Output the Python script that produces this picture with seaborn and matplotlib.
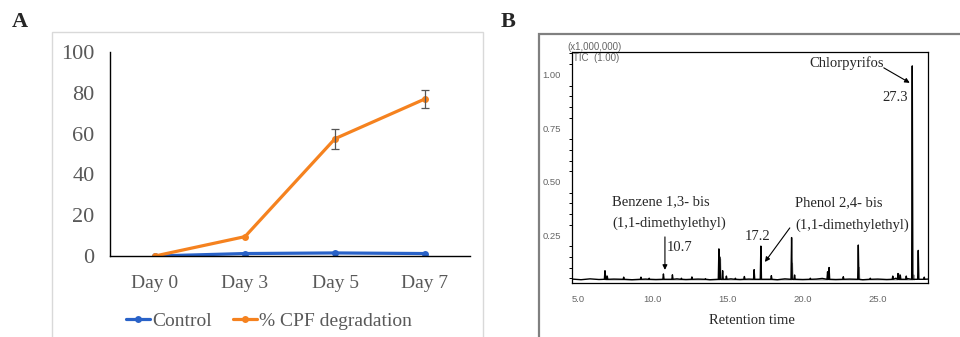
import pandas as pd
import seaborn as sns
import matplotlib
matplotlib.use("Agg")
import matplotlib.pyplot as plt
from matplotlib.patches import Rectangle
from matplotlib.lines import Line2D
from matplotlib.ticker import MultipleLocator, FormatStrFormatter

sns.set_style("white")
plt.rcParams['font.family'] = ['Liberation Serif', 'DejaVu Serif']

# panel A data
days = ["Day 0", "Day 3", "Day 5", "Day 7"]
control = [0.0, 1.2, 1.5, 1.2]
cpf_degradation = [0.0, 9.5, 57.5, 77.0]
cpf_err = [0.0, 0.0, 5.0, 4.5]

# panel B data: chromatogram peaks (retention time, intensity x1e6)
peak_times = [6.8, 6.95, 8.05, 9.2, 9.75, 10.7, 11.3, 11.9, 12.6, 13.5,
              14.4, 14.45, 14.65, 14.9, 15.5, 16.1, 16.75, 17.2, 17.9,
              19.25, 19.45, 20.5, 21.65, 21.75, 22.7, 23.7, 24.5,
              26.0, 26.35, 26.5, 26.9, 27.3, 27.7, 28.1]
peak_heights = [0.085, 0.06, 0.055, 0.055, 0.05, 0.07, 0.066, 0.05, 0.056, 0.048,
                0.187, 0.15, 0.085, 0.06, 0.05, 0.058, 0.09, 0.2, 0.062,
                0.24, 0.065, 0.05, 0.08, 0.1, 0.057, 0.205, 0.05,
                0.06, 0.072, 0.065, 0.06, 1.042, 0.18, 0.055]
gray_times = [6.85, 14.5, 19.3, 21.7, 23.75, 26.4, 27.4]
gray_heights = [0.065, 0.14, 0.12, 0.065, 0.1, 0.07, 0.065]
baseline_times = [4.6, 5.2, 5.8, 6.4, 7.4, 8.6, 9.5, 10.2, 11.6, 12.2, 13.0, 13.8,
                  15.2, 15.8, 16.4, 18.3, 18.8, 20.0, 20.9, 21.3, 22.2, 23.1,
                  24.0, 25.0, 25.6, 26.2, 27.0, 28.35]
baseline_vals = [0.046, 0.043, 0.047, 0.044, 0.046, 0.043, 0.046, 0.044, 0.047, 0.044,
                 0.046, 0.043, 0.047, 0.044, 0.046, 0.043, 0.047, 0.044, 0.046, 0.049,
                 0.044, 0.046, 0.043, 0.046, 0.044, 0.05, 0.048, 0.046]

BLUE = "#2962c8"
ORANGE = "#f5821f"


def build_trace(times, heights, base=0.045, half_width=0.04, with_baseline=True):
    rows = []
    if with_baseline:
        rows += list(zip(baseline_times, baseline_vals))
    for t, h in zip(times, heights):
        rows += [(t - half_width, base), (t, h), (t + half_width, base)]
    df = pd.DataFrame(rows, columns=["time", "intensity"])
    return df.sort_values("time")


fig = plt.figure(figsize=(9.6, 3.37), dpi=100)

# frames around panels
fig.patches.append(Rectangle((52 / 960, -0.1), 431 / 960, 1.1 - 32 / 337,
                             transform=fig.transFigure, fill=False,
                             edgecolor="#d9d9d9", lw=1.0))
fig.patches.append(Rectangle((539 / 960, -0.1), 0.6, 1.1 - 34 / 337,
                             transform=fig.transFigure, fill=False,
                             edgecolor="#808080", lw=1.6))

# ---- panel A ----
axA = fig.add_axes([110 / 960, 1 - 256 / 337, 360 / 960, 204 / 337])
dfA = pd.DataFrame({
    "day": days * 2,
    "value": control + cpf_degradation,
    "series": ["Control"] * 4 + ["% CPF degradation"] * 4,
})
sns.lineplot(data=dfA, x="day", y="value", hue="series",
             palette={"Control": BLUE, "% CPF degradation": ORANGE},
             marker="o", markersize=5, markeredgewidth=0, lw=2.3,
             legend=False, ax=axA)
axA.errorbar(range(len(days))[2:], cpf_degradation[2:], yerr=cpf_err[2:],
             fmt="none", ecolor="#555555", elinewidth=0.9, capsize=3, capthick=0.9)
axA.set_xlim(-0.5, 3.5)
axA.set_ylim(0, 100)
axA.set_yticks([0, 20, 40, 60, 80, 100])
axA.set_xlabel("")
axA.set_ylabel("")
for s in ["top", "right"]:
    axA.spines[s].set_visible(False)
for s in ["left", "bottom"]:
    axA.spines[s].set_color("black")
    axA.spines[s].set_linewidth(1.0)
axA.tick_params(axis="y", length=0, pad=11, labelsize=16, labelcolor="#595959")
axA.tick_params(axis="x", length=0, pad=14, labelsize=14, labelcolor="#595959")

handles = [Line2D([0], [0], color=BLUE, lw=2.3, marker="o", markersize=5, markeredgewidth=0),
           Line2D([0], [0], color=ORANGE, lw=2.3, marker="o", markersize=5, markeredgewidth=0)]
leg = fig.legend(handles, ["Control", "% CPF degradation"], loc="center",
                 bbox_to_anchor=(269 / 960, 1 - 321 / 337), ncol=2, frameon=False,
                 fontsize=14, handlelength=1.25, handletextpad=0.1, columnspacing=1.1)
for t in leg.get_texts():
    t.set_color("#595959")

fig.text(12 / 960, 1 - 22 / 337, "A", fontsize=16, fontweight="bold", va="center")
fig.text(501 / 960, 1 - 22 / 337, "B", fontsize=16, fontweight="bold", va="center")

# ---- panel B ----
axB = fig.add_axes([572 / 960, 1 - 282.5 / 337, 356 / 960, 230.5 / 337])
sns.lineplot(data=build_trace(gray_times, gray_heights, base=0.043, with_baseline=False),
             x="time", y="intensity", estimator=None, color="#9a9a9a", lw=1.0, ax=axB)
sns.lineplot(data=build_trace(peak_times, peak_heights), x="time", y="intensity",
             estimator=None, color="black", lw=1.0, ax=axB)
axB.set_xlim(4.6, 28.35)
axB.set_ylim(0.03, 1.107)
axB.set_xlabel("")
axB.set_ylabel("")
axB.set_xticks([5, 10, 15, 20, 25])
axB.set_yticks([0.25, 0.5, 0.75, 1.0])
axB.xaxis.set_major_formatter(FormatStrFormatter("%.1f"))
axB.yaxis.set_major_formatter(FormatStrFormatter("%.2f"))
axB.yaxis.set_minor_locator(MultipleLocator(0.05))
for s in axB.spines.values():
    s.set_color("black")
    s.set_linewidth(0.9)
axB.tick_params(axis="both", which="major", direction="out", length=3, width=0.8,
                color="black", labelsize=6.8, labelcolor="#666666", pad=5)
axB.tick_params(axis="y", which="minor", direction="out", length=2, width=0.7,
                color="black", left=True)
axB.tick_params(axis="x", pad=6)
for lab in axB.get_xticklabels() + axB.get_yticklabels():
    lab.set_family(["Liberation Sans", "DejaVu Sans"])

fig.text(567 / 960, 1 - 47 / 337, "(x1,000,000)", fontsize=7, color="#666666",
         family=["Liberation Sans", "DejaVu Sans"], va="center")
fig.text(573 / 960, 1 - 58 / 337, "TIC  (1.00)", fontsize=7, color="#666666",
         family=["Liberation Sans", "DejaVu Sans"], va="center")

arrow = dict(arrowstyle="-|>", color="black", lw=0.8, mutation_scale=7, shrinkA=0, shrinkB=0)
fs = 10.5
axB.text(22.93, 1.056, "Chlorpyrifos", fontsize=fs, ha="center", va="center")
axB.annotate("", xy=(27.13, 0.963), xytext=(25.4, 1.033), arrowprops=arrow)
axB.text(27.0, 0.893, "27.3", fontsize=fs, ha="right", va="center")
axB.text(7.27, 0.407, "Benzene 1,3- bis", fontsize=fs, ha="left", va="center")
axB.text(7.27, 0.308, "(1,1-dimethylethyl)", fontsize=fs, ha="left", va="center")
axB.annotate("", xy=(10.8, 0.089), xytext=(10.8, 0.243), arrowprops=arrow)
axB.text(10.93, 0.192, "10.7", fontsize=fs, ha="left", va="center")
axB.text(16.13, 0.243, "17.2", fontsize=fs, ha="left", va="center")
axB.annotate("", xy=(17.47, 0.126), xytext=(19.13, 0.285), arrowprops=arrow)
axB.text(19.47, 0.402, "Phenol 2,4- bis", fontsize=fs, ha="left", va="center")
axB.text(19.47, 0.299, "(1,1-dimethylethyl)", fontsize=fs, ha="left", va="center")
fig.text(752 / 960, 1 - 320 / 337, "Retention time", fontsize=fs, ha="center", va="center")

fig.savefig("out.png", dpi=100)
